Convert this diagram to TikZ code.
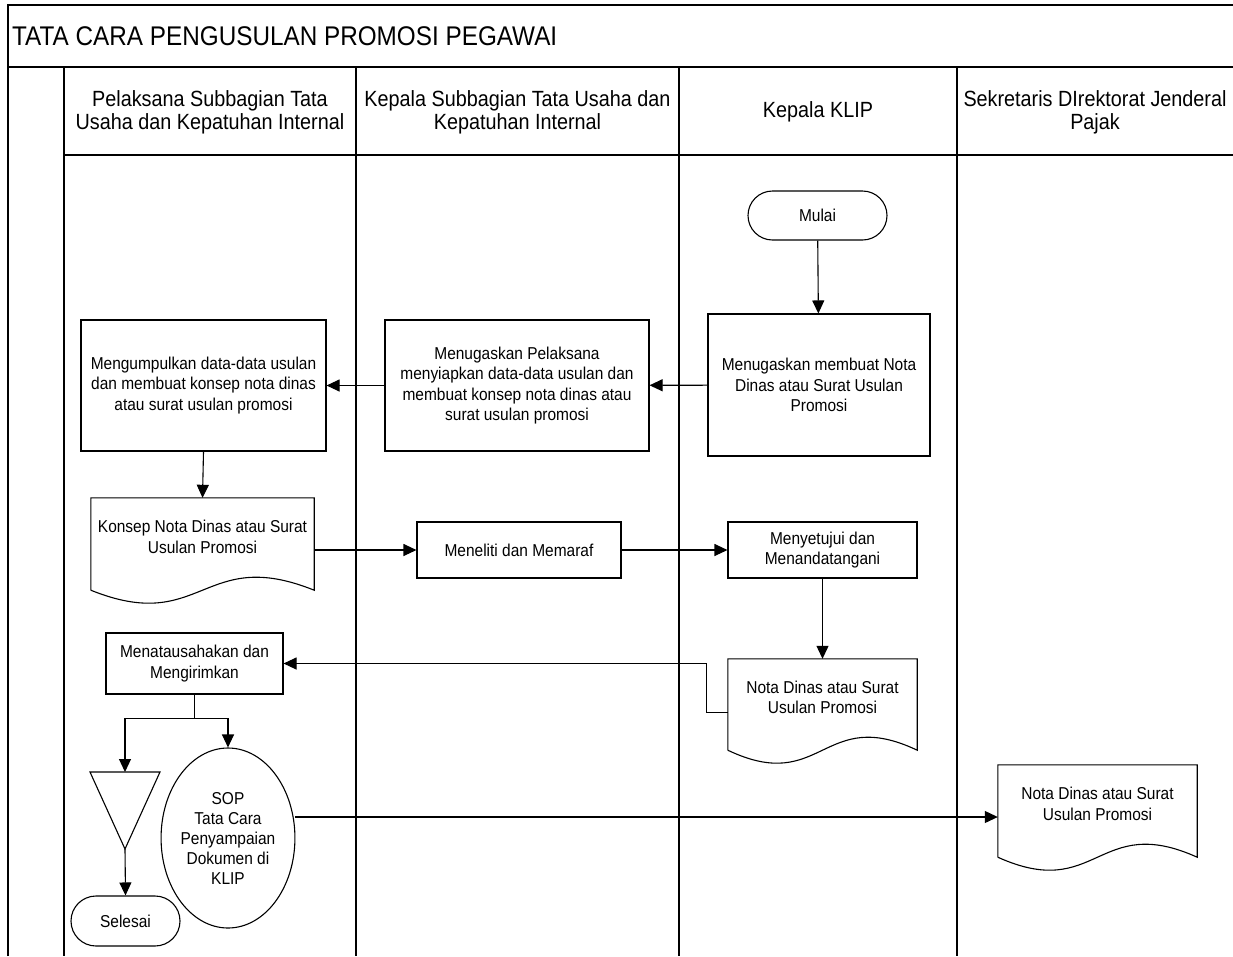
\documentclass[tikz,border=0pt]{standalone}
\usepackage{fontspec}
\setmainfont{Liberation Sans}[FakeStretch=0.9]
\usetikzlibrary{arrows.meta,calc,positioning,shapes.geometric,shapes.misc}
\newcommand{\ttlfont}{\fontsize{27}{30}\selectfont}
\newcommand{\lanefont}{\fontsize{22}{23}\selectfont}
\newcommand{\stepfont}{\fontsize{17.2}{20.5}\selectfont}
% document symbol drawn round a named node (wavy bottom 14 below its south side)
\newcommand{\docshape}[1]{%
  \draw[link] ($(#1.south west)+(0,14)$) -- (#1.north west) -- (#1.north east)
    -- ($(#1.south east)+(0,14)$)
    .. controls ($(#1.south)+(0,-31)$) and ($(#1.south)+(0,59)$) .. ($(#1.south west)+(0,14)$);}
\tikzset{
  frame/.style={line width=1.6pt},
  lane/.style={line width=1.2pt},
  link/.style={line width=1.1pt},
  flow/.style={line width=1.1pt,-{Triangle[length=13pt,width=12pt]}},
  head/.style={align=center,font=\lanefont},
  proc/.style={draw,line width=1.1pt,align=center,font=\stepfont,inner sep=2pt},
  term/.style={rounded rectangle,draw,line width=1.1pt,font=\stepfont,inner sep=2pt},
  docnode/.style={align=center,font=\stepfont,inner sep=0pt},
}
\begin{document}
\begin{tikzpicture}[x=1pt,y=-1pt]
    \useasboundingbox (0,0) rectangle (1233,956);
    % ------------- frame and swimlanes -------------
    \draw[frame] (8,956) -- (8,5) -- (1233,5);
    \draw[frame] (8,67) -- (1233,67);
    \draw[lane] (64,155) -- (1233,155);
    \foreach \lx in {64,356,679,957}
      \draw[lane] (\lx,67) -- (\lx,956);
    \node[anchor=west,font=\ttlfont,inner sep=0pt] (title) at (12,36) {TATA CARA PENGUSULAN PROMOSI PEGAWAI};
    \node[head] (h1) at (210,112) {Pelaksana Subbagian Tata\\Usaha dan Kepatuhan Internal};
    \node[head] (h2) at (517.5,112) {Kepala Subbagian Tata Usaha dan\\Kepatuhan Internal};
    \node[head] (h3) at (818,112) {Kepala KLIP};
    \node[head] (h4) at (1095,112) {Sekretaris DIrektorat Jenderal\\Pajak};
    % ------------- steps -------------
    \node[term,minimum width=143pt,minimum height=49pt] (mulai) at (817.5,215.5) {Mulai};
    \node[proc,minimum width=222pt,minimum height=142pt] (tugas1) at (819,385) {Menugaskan membuat Nota\\Dinas atau Surat Usulan\\Promosi};
    \node[proc,minimum width=264pt,minimum height=131pt] (tugas2) at (517,385.5) {Menugaskan Pelaksana\\menyiapkan data-data usulan dan\\membuat konsep nota dinas atau\\surat usulan promosi};
    \node[proc,minimum width=245pt,minimum height=131pt] (kumpul) at (203.5,385.5) {Mengumpulkan data-data usulan\\dan membuat konsep nota dinas\\atau surat usulan promosi};
    \node[docnode,minimum width=223pt,minimum height=78pt] (konsep) at (202.5,537) {Konsep Nota Dinas atau Surat\\Usulan Promosi};
    \node[proc,minimum width=204pt,minimum height=56pt] (teliti) at (519,550) {Meneliti dan Memaraf};
    \node[proc,minimum width=189pt,minimum height=56pt] (setuju) at (822.5,550) {Menyetujui dan\\Menandatangani};
    \node[docnode,minimum width=189pt,minimum height=77pt] (nota) at (822.5,697.5) {Nota Dinas atau Surat\\Usulan Promosi};
    \node[proc,minimum width=177pt,minimum height=61pt] (menata) at (194.5,663.5) {Menatausahakan dan\\Mengirimkan};
    \node[ellipse,draw,line width=1.1pt,minimum width=118pt,minimum height=180pt,inner sep=0pt,
      align=center,font=\fontsize{17.2}{20}\selectfont] (sop) at (228,838) {SOP\\Tata Cara\\Penyampaian\\Dokumen di\\KLIP};
    \node[term,minimum width=113pt,minimum height=50pt] (selesai) at (125.5,921) {Selesai};
    \node[docnode,minimum width=199pt,minimum height=78pt] (notaR) at (1097.5,804) {Nota Dinas atau Surat\\Usulan Promosi};
    \docshape{konsep}
    \docshape{nota}
    \docshape{notaR}
    % archive triangle
    \coordinate (arsiptop) at (125,772);
    \coordinate (arsipbot) at (125,849);
    \draw[link] (90,772) -- (160,772) -- (arsipbot) -- cycle;
    % ------------- connectors -------------
    \draw[flow] (mulai) -- (tugas1);
    \draw[flow] (tugas1) -- (tugas2);
    \draw[flow] (tugas2) -- (kumpul);
    \draw[flow] (kumpul.south) -- (konsep.north);
    \draw[flow] (konsep.east |- teliti.west) -- (teliti.west);
    \draw[flow] (teliti) -- (setuju);
    \draw[flow] (setuju.south) -- (nota.north);
    \draw[flow] ($(nota.west)+(0,15)$) -- ++(-21,0) |- (menata.east);
    \draw[link] (menata.south) -- ++(0,24) coordinate (split);
    \draw[flow] (split) -| (arsiptop);
    \draw[flow] (split) -| (sop.north);
    \draw[flow] (arsipbot) -- (selesai.north);
    \coordinate (sopout) at ($(notaR.west)+(0,13)$);
    \draw[flow] (sop.east |- sopout) -- (sopout);
  \end{tikzpicture}
\end{document}
